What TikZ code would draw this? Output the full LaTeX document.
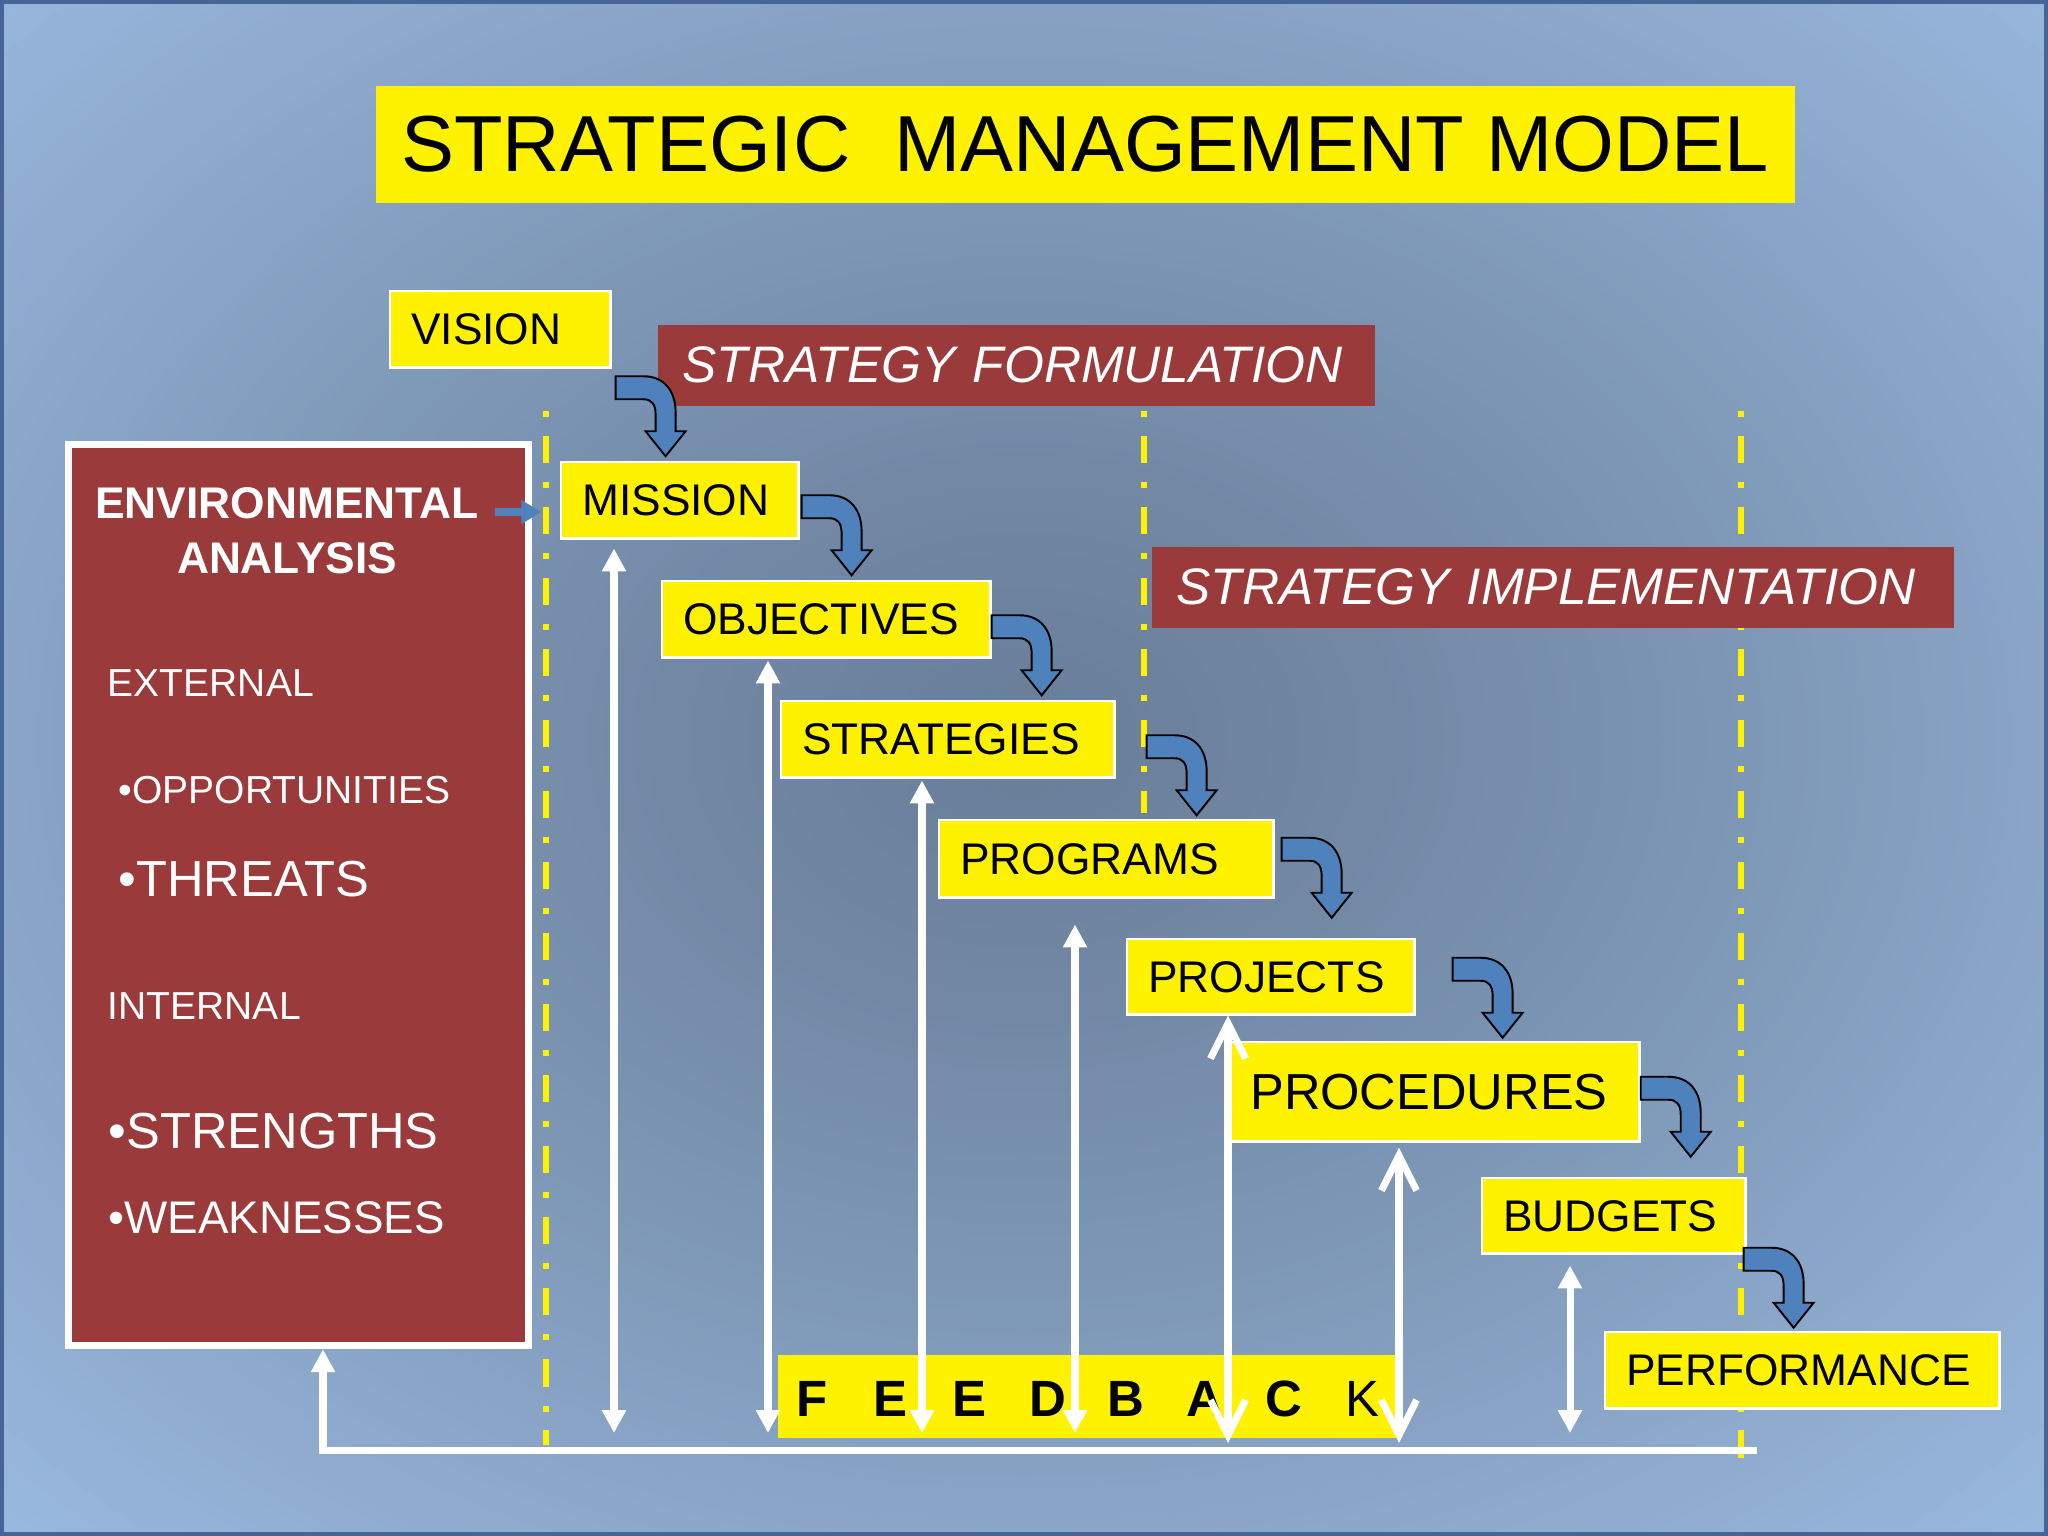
\documentclass[tikz,border=0pt]{standalone}
\usepackage{fontspec}
\setmainfont{Liberation Sans}
\usetikzlibrary{arrows.meta,calc}

\definecolor{slidered}{RGB}{155,58,58}
\definecolor{arrowblue}{RGB}{79,129,189}
\definecolor{bgmid}{RGB}{105,126,153}
\definecolor{bgedge}{RGB}{153,184,222}
\definecolor{slideedge}{RGB}{70,100,150}

\newcommand\titlefont{\fontsize{22.6}{27}\selectfont}
\newcommand\boxfont{\fontsize{12.6}{15}\selectfont}
\newcommand\bigboxfont{\fontsize{14.4}{17}\selectfont}
\newcommand\labelfont{\fontsize{14.6}{17}\selectfont\itshape}
\newcommand\envheadfont{\fontsize{12.6}{15.6}\selectfont\bfseries}
\newcommand\envsmallfont{\fontsize{11.1}{13}\selectfont}
\newcommand\envbigfont{\fontsize{14.4}{17}\selectfont}
\newcommand\envmidfont{\fontsize{13}{15}\selectfont}
\newcommand\fbfont{\fontsize{14.5}{17}\selectfont\bfseries}

\tikzset{
  ybox/.style={fill=yellow, draw=white, line width=0.7pt, anchor=north west, inner xsep=0.21cm, inner ysep=0pt, align=left, minimum height=0.76cm, font=\boxfont},
  rbox/.style={fill=slidered, anchor=north west, inner xsep=0.25cm, inner ysep=0pt, minimum height=0.81cm, text=white, align=left, font=\labelfont},
  envtext/.style={text=white, anchor=west, inner sep=0pt},
  yline/.style={yellow, line width=1.7pt, dash pattern=on 1.7pt off 5.4pt on 7.7pt off 5.4pt},
  fbline/.style={draw=white, line width=2pt},
  fbfill/.style={fbline, {Triangle[width=6.5pt,length=6.5pt]}-{Triangle[width=6.5pt,length=6.5pt]}},
  fbopen/.style={fbline, {Straight Barb[width=10pt,length=10pt]}-{Straight Barb[width=10pt,length=10pt]}},
  turnarrow/.pic={
    \draw[fill=arrowblue, line width=0.55pt] (0,0) -- (28,0) .. controls (48,0) and (60,14) .. (60,36)
      -- (60,55) -- (70,55) -- (50,80) -- (30,55) -- (40,55) -- (40,38)
      .. controls (40,28) and (36,23) .. (28,23) -- (0,23) -- cycle;
  }
}

\begin{document}
\begin{tikzpicture}[x=0.01cm, y=-0.01cm]
  \useasboundingbox (0,0) rectangle (2048,1536);
  % slide background, darker towards the middle
  \begin{scope}
    \clip (0,0) rectangle (2048,1536);
    \fill[bgedge] (0,0) rectangle (2048,1536);
    \foreach \k [evaluate=\k as \p using {int(100*(\k/100)^1.2)}] in {100,...,1}
      \fill[bgedge!\p!bgmid] (1024,740) ellipse ({\k*14.5} and {\k*11});
  \end{scope}
  \draw[slideedge, line width=1pt] (2,2) rectangle (2046,1534);

  % title
  \node[fill=yellow, anchor=north west, minimum width=14.18cm, minimum height=1.17cm, font=\titlefont] (title) at (375,85) {STRATEGIC\ \ MANAGEMENT MODEL};

  % phase borders and labels
  \draw[yline] (546,411) -- (546,1445);
  \draw[yline] (1144,411) -- (1144,813);
  \draw[yline] (1741,411) -- (1741,1470);
  \node[rbox, text width=6.67cm] (formulation) at (657,324) {STRATEGY FORMULATION};
  \node[rbox, text width=7.52cm] (implementation) at (1151,546) {STRATEGY IMPLEMENTATION};

  % environmental analysis
  \node[draw=white, line width=2pt, fill=slidered, minimum width=4.60cm, minimum height=9.01cm] (env) at (298.5,895) {};
  \node[text=white, align=center, font=\envheadfont] (envhead) at (287,531) {ENVIRONMENTAL\\ANALYSIS};
  \node[envtext, font=\envsmallfont] (external) at (107,683) {EXTERNAL};
  \node[envtext, font=\envsmallfont] (opportunities) at (118,790) {•OPPORTUNITIES};
  \node[envtext, font=\envbigfont] (threats) at (118,879) {•THREATS};
  \node[envtext, font=\envsmallfont] (internal) at (107,1006) {INTERNAL};
  \node[envtext, font=\envbigfont] (strengths) at (108,1131) {•STRENGTHS};
  \node[envtext, font=\envmidfont] (weaknesses) at (108,1218) {•WEAKNESSES};
  \coordinate (envout) at (495,512);
  \coordinate (envin) at (541,512);
  \draw[arrowblue, line width=2.2pt, -{Triangle[width=6.5pt,length=5.6pt]}] (envout) -- (envin);

  % steps
  \node[ybox, text width=1.78cm] (vision) at (389,290) {VISION};
  \node[ybox, text width=1.95cm] (mission) at (560,461) {MISSION};
  \node[ybox, text width=2.86cm] (objectives) at (661,580) {OBJECTIVES};
  \node[ybox, text width=2.91cm] (strategies) at (780,700) {STRATEGIES};
  \node[ybox, text width=2.92cm, minimum height=0.77cm] (programs) at (938,819) {PROGRAMS};
  \node[ybox, text width=2.45cm, minimum height=0.75cm] (projects) at (1126,938) {PROJECTS};
  \node[ybox, text width=3.68cm, minimum height=0.99cm, font=\bigboxfont] (procedures) at (1228,1041) {PROCEDURES};
  \node[ybox, text width=2.21cm, minimum height=0.75cm] (budgets) at (1481,1177) {BUDGETS};
  \node[ybox, text width=3.52cm] (performance) at (1604,1331) {PERFORMANCE};

  \pic at ($(vision.east)+(4,47)$) {turnarrow};
  \pic at ($(mission.east)+(2,-5)$) {turnarrow};
  \pic at ($(objectives.east)+(0,-4)$) {turnarrow};
  \pic at ($(strategies.east)+(31,-4)$) {turnarrow};
  \pic at ($(programs.east)+(7,-21)$) {turnarrow};
  \pic at ($(projects.east)+(37,-19)$) {turnarrow};
  \pic at ($(procedures.east)+(0,-15)$) {turnarrow};
  \pic at ($(budgets.east)+(-3,32)$) {turnarrow};

  % feedback
  \node[fill=yellow, anchor=north west, inner sep=0pt, minimum width=6.18cm, minimum height=0.83cm] (feedback) at (777,1354) {};
  \foreach \l [count=\i] in {F,E,E,D,B,A,C}
    \node[font=\fbfont] (fb\i) at ({812+78.6*(\i-1)},1399) {\l};
  \node[font=\fontsize{14.5}{17}\selectfont] (fb8) at (1362,1399) {K};

  \coordinate (fbleft) at (323,1450);
  \coordinate (fbright) at (1757,1450);
  \draw[fbline, -{Triangle[width=6.5pt,length=6.5pt]}] (fbright) -- (fbleft) -- (env.south -| fbleft);

  \coordinate (missionfoot) at (614,1433);
  \coordinate (objectivesfoot) at (768,1433);
  \coordinate (strategiesfoot) at (922,1433);
  \coordinate (programsfoot) at (1075,1433);
  \coordinate (projectsfoot) at (1228,1443);
  \coordinate (proceduresfoot) at (1399,1443);
  \coordinate (budgetsfoot) at (1570,1433);
  \draw[fbfill] ($(mission.south -| missionfoot)+(0,9)$) -- (missionfoot);
  \draw[fbfill] ($(objectives.south -| objectivesfoot)+(0,2)$) -- (objectivesfoot);
  \draw[fbfill] ($(strategies.south -| strategiesfoot)+(0,2)$) -- (strategiesfoot);
  \draw[fbfill] ($(programs.south -| programsfoot)+(0,26)$) -- (programsfoot);
  \draw[fbopen] (projects.south -| projectsfoot) -- (projectsfoot);
  \draw[fbopen] ($(procedures.south -| proceduresfoot)+(0,5)$) -- (proceduresfoot);
  \draw[fbfill] ($(budgets.south -| budgetsfoot)+(0,11)$) -- (budgetsfoot);
\end{tikzpicture}
\end{document}
